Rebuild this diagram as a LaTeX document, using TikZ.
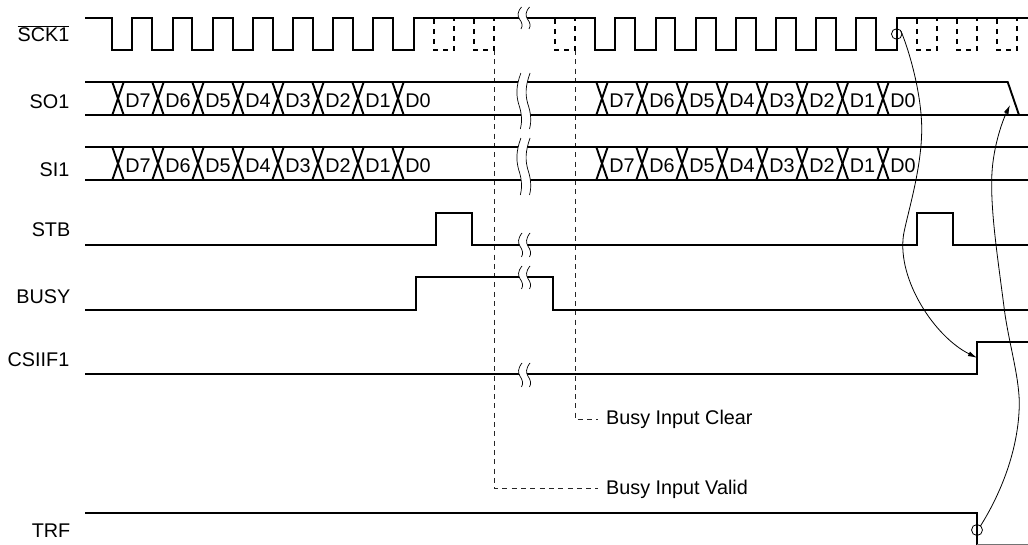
\documentclass[tikz,border=0pt]{standalone}
\usepackage{fontspec}
\setmainfont{Liberation Sans}
\usetikzlibrary{arrows.meta}
\tikzset{
  sig/.style={line width=1.9pt,line join=miter,line cap=butt},
  sigdash/.style={line width=1.9pt,dash pattern=on 4.6pt off 5.4pt},
  guide/.style={line width=0.9pt,dash pattern=on 5pt off 4.3pt,black!85},
  thinc/.style={line width=0.8pt},
  lab/.style={anchor=base east,inner sep=0pt,font=\fontsize{19.8}{22}\selectfont},
  dat/.style={anchor=base,inner sep=0pt,font=\fontsize{19.8}{22}\selectfont},
  note/.style={anchor=base west,inner sep=0pt,font=\fontsize{19.8}{22}\selectfont},
  brk/.style={line width=0.7pt}
}
% break mark: #1 x, #2 top y, #3 bottom y, #4 width scale
\newcommand{\brkmark}[4]{%
  \begin{scope}[shift={(#1,#2)},xscale=#4,yscale=(#3-#2)/100]
    \fill[white] (2.5,0) .. controls (-2,25) and (-1.5,40) .. (0.5,55)
       .. controls (3,70) and (4,85) .. (2,100) -- (10,100)
       .. controls (12,85) and (11,70) .. (8.5,55)
       .. controls (6.5,40) and (6,25) .. (10.5,0) -- cycle;
    \draw[brk] (2.5,0) .. controls (-2,25) and (-1.5,40) .. (0.5,55)
       .. controls (3,70) and (4,85) .. (2,100);
    \draw[brk] (10.5,0) .. controls (6,25) and (6.5,40) .. (8.5,55)
       .. controls (11,70) and (12,85) .. (10,100);
  \end{scope}}
\newcommand{\crossings}[3]{%
  \foreach \c in {#3}{
    \draw[sig] (\c-5.7,#1) -- (\c+5.7,#2);
    \draw[sig] (\c-5.7,#2) -- (\c+5.7,#1);
  }}
\begin{document}
\begin{tikzpicture}[x=1pt,y=-1pt]
\useasboundingbox (0,0) rectangle (1028,545);
% labels
\node[lab] (lsck) at (69.5,41.3) {$\overline{\mbox{SCK1}}$};
\node[lab] (lso) at (69.5,108.6) {SO1};
\node[lab] (lsi) at (69.5,176.3) {SI1};
\node[lab] (lstb) at (70.5,236.3) {STB};
\node[lab] (lbusy) at (70.5,303.3) {BUSY};
\node[lab] (lcsi) at (69.5,366.3) {CSIIF1};
\node[lab] (ltrf) at (70.5,537.3) {TRF};
% guide lines
\coordinate (g1a) at (494,50);
\coordinate (g1b) at (494,488);
\coordinate (g1c) at (598,488);
\coordinate (g2a) at (575,50);
\coordinate (g2b) at (575,419.5);
\coordinate (g2c) at (598,419.5);
\draw[guide] (g1a) -- (g1b) -- (g1c);
\draw[guide] (g2a) -- (g2b) -- (g2c);
\node[note] (nclear) at (606,424) {Busy Input Clear};
\node[note] (nvalid) at (606,494) {Busy Input Valid};
% SCK solid
\draw[sig] (85,18) -- (112,18)
  \foreach \k in {0,...,7}{ -- ({round(112+40.2*\k)},18) -- ({round(112+40.2*\k)},50) -- ({round(132.3+40.2*\k)},50) -- ({round(132.3+40.2*\k)},18)}
  -- (595,18)
  \foreach \k in {0,...,7}{ -- ({round(595+40.2*\k)},18) -- ({round(595+40.2*\k)},50) -- ({round(615.3+40.2*\k)},50) -- ({round(615.3+40.2*\k)},18)}
  -- (1028,18);
% SCK dashed pulses
\foreach \a in {434,474,555,917,957,997}{
  \draw[sigdash] (\a,19) -- (\a,50) -- (\a+20,50) -- (\a+20,19);
}
% SO1
\draw[sig] (85,82) -- (1007.7,82) -- (1019,115);
\draw[sig] (85,115) -- (1028,115);
\crossings{82}{115}{118,158,198,238,278,318,358,398,602,642,682,722,762,802,842.5,883}
% SI1
\draw[sig] (85,147) -- (1028,147);
\draw[sig] (85,180) -- (1028,180);
\crossings{147}{180}{118,158,198,238,278,318,358,398,602,642,682,722,762,802,842.5,883}
\foreach \c/\t in {138/D7,178/D6,218/D5,258/D4,298/D3,338/D2,378/D1,418/D0,622/D7,662/D6,702/D5,742/D4,782/D3,822/D2,862.5/D1,903/D0}{
  \node[dat] at (\c,107.3) {\t};
  \node[dat] at (\c,172.3) {\t};
}
% STB
\draw[sig] (85,245) -- (436,245) -- (436,213) -- (472,213) -- (472,245)
  -- (917,245) -- (917,213) -- (953,213) -- (953,245) -- (1028,245);
% BUSY
\draw[sig] (85,310) -- (416,310) -- (416,277) -- (553,277) -- (553,310) -- (1028,310);
% CSIIF1
\draw[sig] (85,374) -- (977,374) -- (977,342) -- (1028,342);
% TRF
\draw[sig] (85,513) -- (977,513) -- (977,545);
\draw[line width=0.8pt,black!55] (977,544.3) -- (1028,544.3);
% breaks
\brkmark{519}{7}{29}{1}
\brkmark{518}{73}{129}{1.15}
\brkmark{518}{138}{195}{1.15}
\brkmark{519.5}{233}{257}{1}
\brkmark{519.5}{266}{289}{1}
\brkmark{519.5}{363}{387}{1}
% curves
\node[circle,draw,thinc,minimum size=10.5pt,inner sep=0pt] (c1) at (896.7,34) {};
\node[circle,draw,thinc,minimum size=11pt,inner sep=0pt] (c2) at (977,530) {};
\coordinate (t1) at (977,357.8);
\coordinate (t2) at (1010,105);
\draw[thinc,-{Latex[length=9pt,width=5pt]}] (c1) ++(4.3,-2.8)
  .. controls (912,58) and (922,100) .. (921.7,130)
  .. controls (921.5,170) and (907,215) .. (903.5,235)
  .. controls (897,280) and (935,337) .. (t1);
\draw[thinc,-{Latex[length=9pt,width=5pt]}] (c2) ++(3.3,-3.8)
  .. controls (1000,495) and (1019,450) .. (1019.3,403)
  .. controls (1019,375) and (1008,340) .. (1004,307)
  .. controls (998,260) and (991,215) .. (991.7,180)
  .. controls (992,150) and (1002,122) .. (t2);
\end{tikzpicture}
\end{document}
